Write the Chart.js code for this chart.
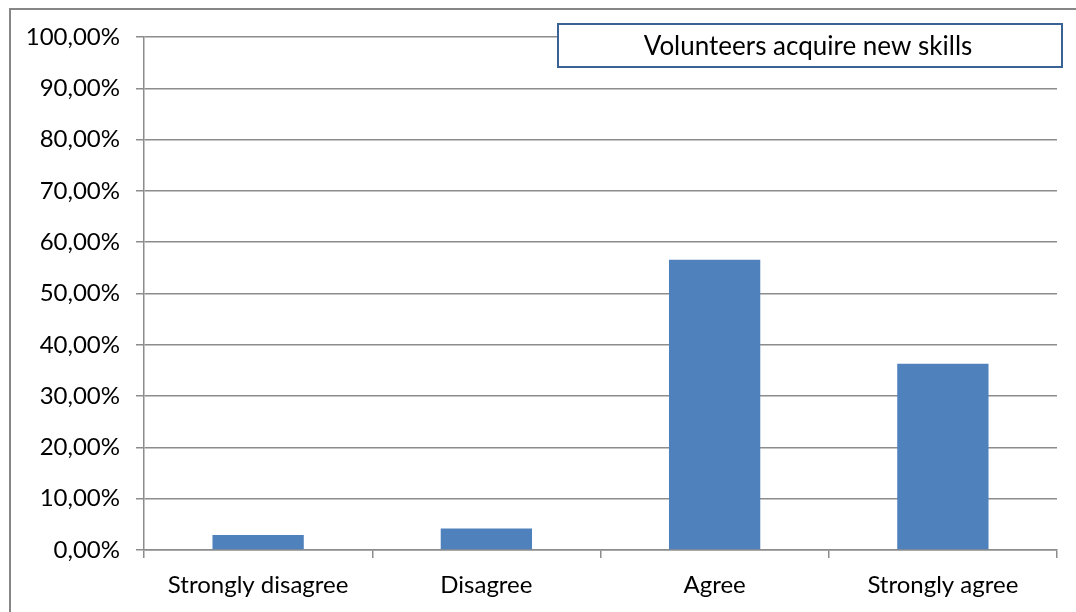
<!DOCTYPE html>
<html>
<head>
<meta charset="utf-8">
<script src="https://cdn.jsdelivr.net/npm/chart.js@4/dist/chart.umd.min.js"></script>
<style>
  html, body { margin: 0; padding: 0; background: #fff; }
  #wrap { width: 1076px; height: 612px; }
</style>
</head>
<body>
<div id="wrap"><canvas id="bar-canvas" width="1076" height="612"></canvas></div>
<script>
var categories = ['Strongly disagree', 'Disagree', 'Agree', 'Strongly agree'];
var shares = [2.9, 4.2, 56.6, 36.3];
var seriesName = 'Volunteers acquire new skills';

var fontFamily = "Lato, 'Open Sans', sans-serif";

// outer frame + the boxed series name in the top right
var frame = {
    id: 'frame',
    beforeDraw: function (chart) {
        var ctx = chart.ctx;
        ctx.save();
        ctx.fillStyle = '#ffffff';
        ctx.fillRect(0, 0, chart.width, chart.height);
        ctx.strokeStyle = '#868686';
        ctx.lineWidth = 2;
        ctx.strokeRect(10, 9, chart.width + 10, chart.height + 10);
        ctx.restore();
    },
    afterDraw: function (chart) {
        var ctx = chart.ctx;
        ctx.save();
        ctx.fillStyle = '#ffffff';
        ctx.fillRect(558, 24, 504, 43);
        ctx.strokeStyle = '#3a6294';
        ctx.lineWidth = 2;
        ctx.strokeRect(558, 24, 504, 43);
        ctx.fillStyle = '#000000';
        ctx.font = "26px " + fontFamily;
        ctx.textAlign = 'center';
        ctx.textBaseline = 'middle';
        ctx.fillText(seriesName, 808, 47);
        ctx.restore();
    }
};

new Chart('bar-canvas', {
    type: 'bar',
    data: {
        labels: categories,
        datasets: [{
            label: seriesName,
            data: shares,
            backgroundColor: '#4f81bd',
            borderWidth: 0,
            categoryPercentage: 1,
            barPercentage: 0.4
        }]
    },
    options: {
        responsive: false,
        animation: false,
        layout: {
            padding: { left: 0, right: 19, top: 37, bottom: 0 }
        },
        plugins: {
            legend: { display: false },
            tooltip: { enabled: false }
        },
        scales: {
            y: {
                min: 0,
                max: 100,
                afterFit: function (scale) { scale.width = 144; },
                ticks: {
                    stepSize: 10,
                    padding: 16,
                    color: '#000000',
                    font: { family: fontFamily, size: 24 },
                    callback: function (v) { return v.toFixed(2).replace('.', ',') + '%'; }
                },
                grid: {
                    color: '#8c8c8c',
                    lineWidth: 1.5,
                    tickLength: 8
                },
                border: { color: '#8c8c8c', width: 1.5 }
            },
            x: {
                afterFit: function (scale) { scale.height = 62; },
                ticks: {
                    padding: 13,
                    color: '#000000',
                    font: { family: fontFamily, size: 24 }
                },
                grid: {
                    drawOnChartArea: false,
                    color: '#8c8c8c',
                    lineWidth: 1.5,
                    tickLength: 8
                },
                border: { color: '#8c8c8c', width: 1.5 }
            }
        }
    },
    plugins: [frame]
});
</script>
</body>
</html>
